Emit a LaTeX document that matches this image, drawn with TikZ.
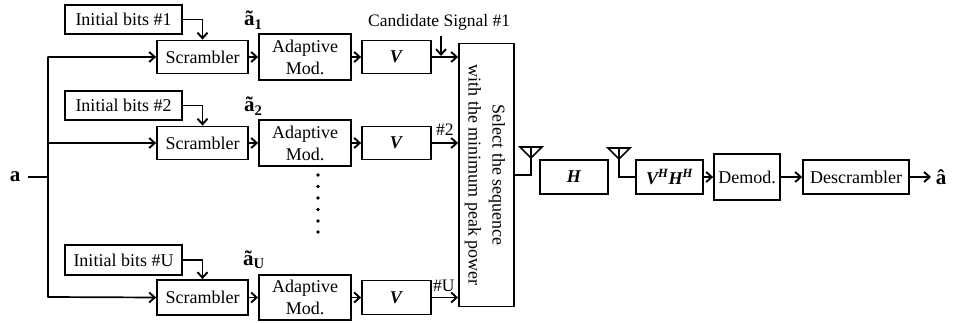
\documentclass[tikz,border=0pt]{standalone}
\usepackage{fontspec}
\setmainfont{Liberation Serif}
\usetikzlibrary{arrows.meta}
\tikzset{
  x=1pt,y=-1pt,
  every node/.style={font=\fontsize{18}{20}\selectfont,inner sep=0pt},
  blk/.style={draw,line width=1.8pt,inner sep=0pt,align=center},
  conn/.style={line width=1.7pt,-{Straight Barb[length=5.5pt,width=10pt,line width=1.9pt]}},
  plain/.style={line width=1.7pt},
  lbl/.style={font=\fontsize{17.5}{19}\selectfont}
}
\begin{document}
\begin{tikzpicture}
\useasboundingbox (0,0) rectangle (966,323);
% row 1
\node[blk,minimum width=117pt,minimum height=29pt] (i1) at (123.5,19.5) {Initial bits \#1};
\node[blk,minimum width=91pt,minimum height=33pt] (s1) at (202.5,57) {Scrambler};
\node[blk,minimum width=92pt,minimum height=46pt,font=\fontsize{18}{22}\selectfont] (m1) at (305,57) {Adaptive\\Mod.};
\node[blk,minimum width=69pt,minimum height=33pt] (v1) at (396.5,57) {\textbf{\textit{V}}};
% row 2
\node[blk,minimum width=117pt,minimum height=29pt] (i2) at (123.5,105.5) {Initial bits \#2};
\node[blk,minimum width=91pt,minimum height=33pt] (s2) at (202.5,143) {Scrambler};
\node[blk,minimum width=92pt,minimum height=46pt,font=\fontsize{18}{22}\selectfont] (m2) at (305,143) {Adaptive\\Mod.};
\node[blk,minimum width=69pt,minimum height=33pt] (v2) at (396.5,143) {\textbf{\textit{V}}};
% row U
\node[blk,minimum width=117pt,minimum height=30pt] (i3) at (123.5,260) {Initial bits \#U};
\node[blk,minimum width=91pt,minimum height=35pt] (s3) at (202.5,297.5) {Scrambler};
\node[blk,minimum width=92pt,minimum height=45pt,font=\fontsize{18}{22}\selectfont] (m3) at (305,297.5) {Adaptive\\Mod.};
\node[blk,minimum width=69pt,minimum height=34pt] (v3) at (396.5,297.5) {\textbf{\textit{V}}};
% selector
\node[blk,minimum width=55pt,minimum height=263pt] (sel) at (486.5,175) {};
\node[rotate=-90,align=center,font=\fontsize{18}{24}\selectfont] (seltxt) at (485,175) {Select the sequence\\with the minimum peak power};
% receiver
\node[blk,minimum width=68pt,minimum height=34pt] (h) at (574,177) {\textbf{\textit{H}}};
\node[blk,minimum width=67pt,minimum height=34pt] (vh) at (669.5,177) {\textbf{\textit{V\textsuperscript{H}H\textsuperscript{H}}}};
\node[blk,minimum width=66pt,minimum height=46pt] (dm) at (747,177) {Demod.};
\node[blk,minimum width=106pt,minimum height=34pt] (ds) at (856,177) {Descrambler};
% labels
\node (a) at (15,177) {\fontsize{21}{21}\selectfont\bfseries a};
\node (ahat) at (941,177) {\fontsize{21}{21}\selectfont\bfseries â};
\node[anchor=base west] (t1) at (244,26) {\fontsize{21}{21}\selectfont\bfseries ã\textsubscript{1}};
\node[anchor=base west] (t2) at (244,112) {\fontsize{21}{21}\selectfont\bfseries ã\textsubscript{2}};
\node[anchor=base west] (t3) at (243,265) {\fontsize{21}{21}\selectfont\bfseries ã\textsubscript{U}};
\node[lbl,anchor=base west] (c1) at (368,27) {Candidate Signal \#1};
\node[lbl,anchor=base west] (c2) at (436,136) {\#2};
\node[lbl,anchor=base west] (c3) at (433,291) {\#U};
% trunk
\coordinate (tt) at (48,57);
\coordinate (tm) at (48,143);
\coordinate (tb) at (48,297);
\coordinate (ta) at (48,177);
\coordinate (as) at (28,177);
\draw[plain] (as) -- (ta);
\draw[plain,line cap=round] (tt) -- (tb);
\draw[conn] (tt) -- (s1.west);
\draw[conn] (tm) -- (s2.west);
\draw[conn] (tb) -- (s3.west);
% init arrows
\draw[conn] (i1.east) -| (s1.north);
\draw[conn] (i2.east) -| (s2.north);
\draw[conn] (i3.east) -| (s3.north);
% row arrows
\foreach \k in {1,2,3}{
  \draw[conn] (s\k.east) -- (m\k.west);
  \draw[conn] (m\k.east) -- (v\k.west);
}
\coordinate (e1) at (sel.west |- v1.east);
\coordinate (e2) at (sel.west |- v2.east);
\coordinate (e3) at (sel.west |- v3.east);
\draw[conn] (v1.east) -- (e1);
\draw[conn] (v2.east) -- (e2);
\draw[conn] (v3.east) -- (e3);
\coordinate (c1s) at (441,36);
\coordinate (c1e) at (441,56);
\draw[conn] (c1s) -- (c1e);
% dots
\foreach \y in {175,186.5,198,209.5,221,232}{
  \fill (318,\y) circle (1.8pt);
}
% antennas
\coordinate (a1t) at (531,147);
\coordinate (a1b) at (531,175);
\coordinate (a2t) at (619,148);
\coordinate (a2b) at (619,177);
\draw[plain,line join=miter] (520,147) -- (542,147) -- (531,158) -- cycle;
\draw[plain,line join=miter] (608,148) -- (630,148) -- (619,159) -- cycle;
\draw[plain] (a1t) -- (a1b) -- (sel.east |- a1b);
\draw[plain] (a2t) -- (a2b) -- (vh.west);
% receiver arrows
\draw[conn] (vh.east) -- (dm.west);
\draw[conn] (dm.east) -- (ds.west);
\coordinate (ae) at (931,177);
\draw[conn] (ds.east) -- (ae);
\end{tikzpicture}
\end{document}
